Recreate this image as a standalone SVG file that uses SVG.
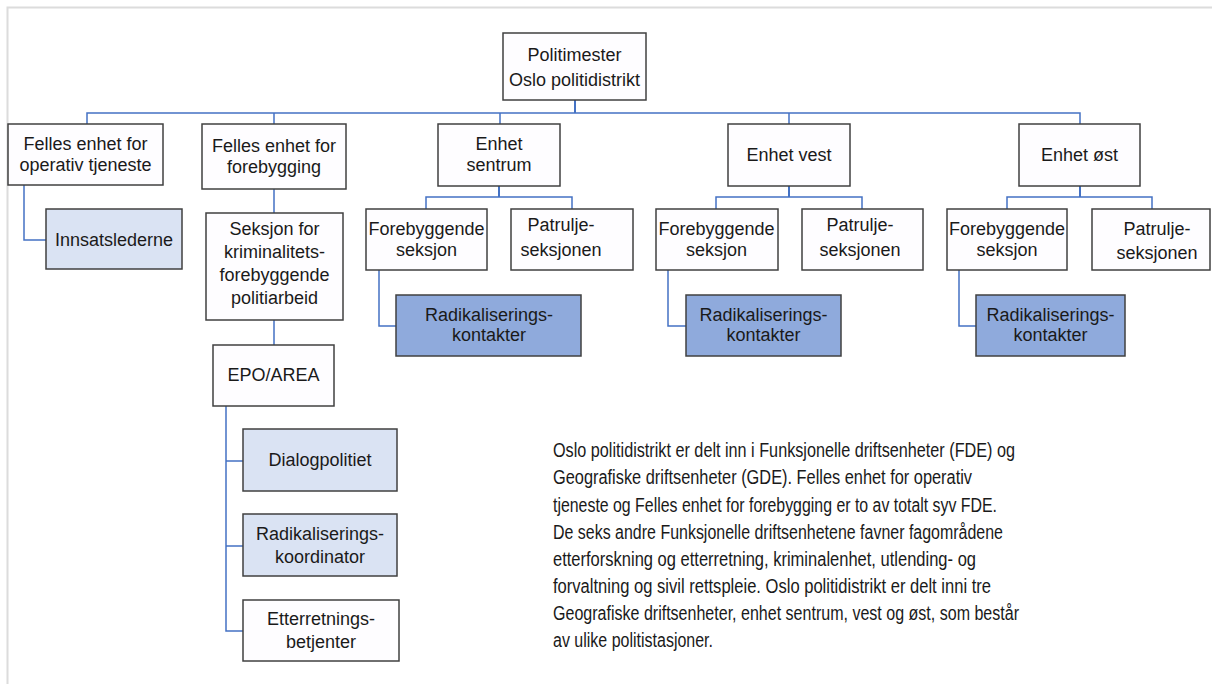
<svg xmlns="http://www.w3.org/2000/svg" width="1212" height="684" viewBox="0 0 1212 684">
<style>
.b{fill:#FEFDFF;stroke:#404040;stroke-width:1.5}
.lb{fill:#DAE3F3;stroke:#404040;stroke-width:1.5}
.db{fill:#8FAADC;stroke:#404040;stroke-width:1.5}
text{font-family:"Liberation Sans",Arial,sans-serif;font-size:18px;fill:#1a1a1a;text-anchor:middle}
.p{font-size:19.5px;text-anchor:start}
.c{fill:none;stroke:#4472C4;stroke-width:1.5}
.c2{fill:none;stroke:#4472C4;stroke-width:2}
</style>
<rect x="0" y="0" width="1212" height="684" fill="#FFFFFF"/>
<path d="M7.5,684 V7.5 H1212" fill="none" stroke="#DCDCDC" stroke-width="2"/>
<g id="connectors">
<path class="c2" d="M575,100 V113"/>
<path class="c" d="M87,124 V113 H1080 V124 M274,113 V124 M500,113 V124 M789,113 V124"/>
<path class="c" d="M24,185 V240 H46"/>
<path class="c" d="M274,189 V213 M274,320 V345"/>
<path class="c" d="M226,406 V631 H243 M226,461 H243 M226,546 H243"/>
<path class="c2" d="M499,186 V197"/>
<path class="c" d="M426,209 V197 H572 V209"/>
<path class="c" d="M379,270 V326 H396"/>
<path class="c2" d="M789,186 V197"/>
<path class="c" d="M716,209 V197 H862 V209"/>
<path class="c" d="M668,270 V326 H686"/>
<path class="c2" d="M1080,186 V197"/>
<path class="c" d="M1007,209 V197 H1152 V209"/>
<path class="c" d="M959,270 V326 H976"/>
</g>
<g id="politimester"><rect class="b" x="503" y="33" width="143" height="67"/><text x="574.5" y="61">Politimester</text><text x="574.5" y="86">Oslo politidistrikt</text></g>
<g id="felles-operativ"><rect class="b" x="8" y="124" width="155" height="61"/><text x="85.5" y="150">Felles enhet for</text><text x="85.5" y="171">operativ tjeneste</text></g>
<g id="innsatslederne"><rect class="lb" x="46" y="209" width="136" height="60"/><text x="114" y="246">Innsatslederne</text></g>
<g id="felles-forebygging"><rect class="b" x="202" y="124" width="144" height="65"/><text x="274" y="152">Felles enhet for</text><text x="274" y="173">forebygging</text></g>
<g id="seksjon"><rect class="b" x="206" y="213" width="137" height="107"/><text x="274.5" y="235">Seksjon for</text><text x="274.5" y="258">kriminalitets-</text><text x="274.5" y="281">forebyggende</text><text x="274.5" y="304">politiarbeid</text></g>
<g id="epo-area"><rect class="b" x="213" y="345" width="121" height="61"/><text x="273.5" y="381">EPO/AREA</text></g>
<g id="dialogpolitiet"><rect class="lb" x="243" y="429" width="154" height="62"/><text x="320" y="466">Dialogpolitiet</text></g>
<g id="radikaliseringskoordinator"><rect class="lb" x="243" y="514" width="154" height="62"/><text x="320" y="540">Radikaliserings-</text><text x="320" y="563">koordinator</text></g>
<g id="etterretningsbetjenter"><rect class="b" x="243" y="600" width="156" height="61"/><text x="321" y="625">Etterretnings-</text><text x="321" y="648">betjenter</text></g>
<g id="enhet-sentrum"><rect class="b" x="438" y="124" width="122" height="62"/><text x="499" y="150">Enhet</text><text x="499" y="171">sentrum</text></g>
<g id="sentrum-forebyggende"><rect class="b" x="366" y="209" width="121" height="61"/><text x="426.5" y="235">Forebyggende</text><text x="426.5" y="256">seksjon</text></g>
<g id="sentrum-patrulje"><rect class="b" x="511" y="209" width="122" height="61"/><text x="561" y="231">Patrulje-</text><text x="561" y="256">seksjonen</text></g>
<g id="sentrum-radikalisering"><rect class="db" x="396" y="295" width="185" height="61"/><text x="489" y="321">Radikaliserings-</text><text x="489" y="341">kontakter</text></g>
<g id="enhet-vest"><rect class="b" x="728" y="124" width="122" height="62"/><text x="789" y="161">Enhet vest</text></g>
<g id="vest-forebyggende"><rect class="b" x="656" y="209" width="122" height="61"/><text x="716.5" y="235">Forebyggende</text><text x="716.5" y="256">seksjon</text></g>
<g id="vest-patrulje"><rect class="b" x="802" y="209" width="121" height="61"/><text x="860" y="231">Patrulje-</text><text x="860" y="256">seksjonen</text></g>
<g id="vest-radikalisering"><rect class="db" x="686" y="295" width="155" height="61"/><text x="763.5" y="321">Radikaliserings-</text><text x="763.5" y="341">kontakter</text></g>
<g id="enhet-ost"><rect class="b" x="1019" y="124" width="121" height="62"/><text x="1079.5" y="161">Enhet øst</text></g>
<g id="ost-forebyggende"><rect class="b" x="947" y="209" width="120" height="61"/><text x="1007" y="235">Forebyggende</text><text x="1007" y="256">seksjon</text></g>
<g id="ost-patrulje"><rect class="b" x="1092" y="209" width="118" height="61"/><text x="1157" y="235">Patrulje-</text><text x="1157" y="259">seksjonen</text></g>
<g id="ost-radikalisering"><rect class="db" x="976" y="295" width="149" height="61"/><text x="1050.5" y="321">Radikaliserings-</text><text x="1050.5" y="341">kontakter</text></g>
<g id="description">
<text class="p" x="553" y="457" textLength="462" lengthAdjust="spacingAndGlyphs">Oslo politidistrikt er delt inn i Funksjonelle driftsenheter (FDE) og</text>
<text class="p" x="553" y="484" textLength="419" lengthAdjust="spacingAndGlyphs">Geografiske driftsenheter (GDE). Felles enhet for operativ</text>
<text class="p" x="553" y="511.5" textLength="444" lengthAdjust="spacingAndGlyphs">tjeneste og Felles enhet for forebygging er to av totalt syv FDE.</text>
<text class="p" x="553" y="538.5" textLength="450" lengthAdjust="spacingAndGlyphs">De seks andre Funksjonelle driftsenhetene favner fagområdene</text>
<text class="p" x="553" y="566" textLength="423" lengthAdjust="spacingAndGlyphs">etterforskning og etterretning, kriminalenhet, utlending- og</text>
<text class="p" x="553" y="593" textLength="438" lengthAdjust="spacingAndGlyphs">forvaltning og sivil rettspleie. Oslo politidistrikt er delt inni tre</text>
<text class="p" x="553" y="620" textLength="466" lengthAdjust="spacingAndGlyphs">Geografiske driftsenheter, enhet sentrum, vest og øst, som består</text>
<text class="p" x="553" y="647" textLength="160" lengthAdjust="spacingAndGlyphs">av ulike politistasjoner.</text>
</g>
</svg>
